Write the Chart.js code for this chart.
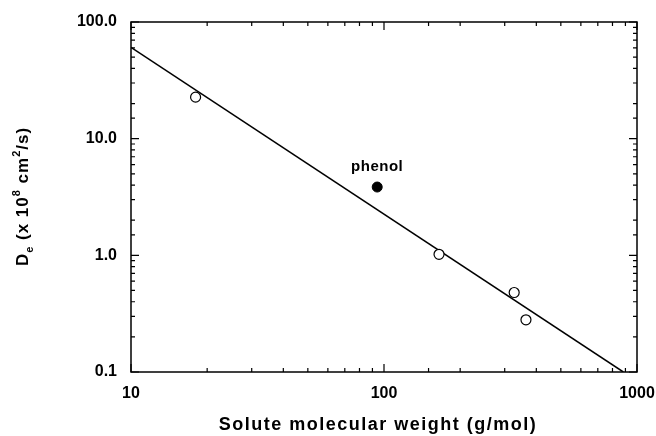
<!DOCTYPE html>
<html>
<head>
<meta charset="utf-8">
<script src="https://cdn.jsdelivr.net/npm/chart.js@4.4.1/dist/chart.umd.min.js"></script>
<style>
  html, body { margin: 0; padding: 0; background: #fff; }
  #wrap { width: 656px; height: 436px; }
</style>
</head>
<body>
<div id="wrap"><canvas id="chart" width="656" height="436"></canvas></div>
<script>
// Effective diffusivity vs solute molecular weight (log-log)
const molWeights = [18, 165, 327, 364];
const diffusivities = [22.7, 1.02, 0.48, 0.28];
const phenolWeight = [94];
const phenolDiff = [3.85];
const fitWeights = [10, 883];
const fitDiff = [60.7, 0.1];
const xTickLabels = ['10', '100', '1000'];
const yTickLabels = ['0.1', '1.0', '10.0', '100.0'];
const xTitle = 'Solute molecular weight (g/mol)';

const FONT = '"Liberation Sans", Arial, Helvetica, sans-serif';

function isDecade(v) {
    const l = Math.log10(v);
    return Math.abs(l - Math.round(l)) < 1e-6;
}

function labelFor(list, v) {
    if (!isDecade(v)) return '';
    const hit = list.find(s => Math.abs(parseFloat(s) - v) < 1e-9);
    return hit || '';
}

// Frame, inward ticks on all four sides, point label and axis titles
const frameTicks = {
    id: 'frameTicks',
    afterDatasetsDraw(chart) {
        const { ctx, chartArea: a, scales: { x, y } } = chart;
        ctx.save();
        ctx.strokeStyle = '#000';
        ctx.lineWidth = 1.5;
        ctx.strokeRect(a.left, a.top, a.right - a.left, a.bottom - a.top);

        ctx.lineWidth = 1.2;
        ctx.beginPath();
        x.ticks.forEach(t => {
            const px = x.getPixelForValue(t.value);
            const len = isDecade(t.value) ? 8 : 4;
            ctx.moveTo(px, a.bottom); ctx.lineTo(px, a.bottom - len);
            ctx.moveTo(px, a.top); ctx.lineTo(px, a.top + len);
        });
        y.ticks.forEach(t => {
            const py = y.getPixelForValue(t.value);
            const len = isDecade(t.value) ? 8 : 4;
            ctx.moveTo(a.left, py); ctx.lineTo(a.left + len, py);
            ctx.moveTo(a.right, py); ctx.lineTo(a.right - len, py);
        });
        ctx.stroke();

        ctx.fillStyle = '#000';
        ctx.textBaseline = 'alphabetic';

        // phenol label above its point
        const pt = chart.getDatasetMeta(1).data[0];
        ctx.font = 'bold 15px ' + FONT;
        ctx.letterSpacing = '0.5px';
        ctx.textAlign = 'center';
        ctx.fillText('phenol', pt.x, pt.y - 16);

        // x axis title
        ctx.font = 'bold 18px ' + FONT;
        ctx.letterSpacing = '1.5px';
        ctx.fillText(xTitle, 378, 430);

        // y axis title with sub/superscripts
        const parts = [
            ['D', 0, 17], ['e', 5, 11], [' (x 10', 0, 17], ['8', -8, 11],
            [' cm', 0, 17], ['2', -8, 11], ['/s)', 0, 17]
        ];
        ctx.letterSpacing = '1px';
        let total = 0;
        parts.forEach(p => { ctx.font = 'bold ' + p[2] + 'px ' + FONT; total += ctx.measureText(p[0]).width; });
        ctx.translate(28, 196.5);
        ctx.rotate(-Math.PI / 2);
        ctx.textAlign = 'left';
        let cx = -total / 2;
        parts.forEach(p => {
            ctx.font = 'bold ' + p[2] + 'px ' + FONT;
            ctx.fillText(p[0], cx, p[1]);
            cx += ctx.measureText(p[0]).width;
        });
        ctx.restore();
    }
};

new Chart(document.getElementById('chart'), {
    type: 'scatter',
    data: {
        datasets: [{
            label: 'solutes',
            data: molWeights.map((w, i) => ({ x: w, y: diffusivities[i] })),
            pointRadius: 5,
            pointBorderWidth: 1.2,
            pointBorderColor: '#000',
            pointBackgroundColor: '#fff'
        }, {
            label: 'phenol',
            data: phenolWeight.map((w, i) => ({ x: w, y: phenolDiff[i] })),
            pointRadius: 5,
            pointBorderWidth: 1,
            pointBorderColor: '#000',
            pointBackgroundColor: '#000'
        }, {
            label: 'fit',
            type: 'line',
            data: fitWeights.map((w, i) => ({ x: w, y: fitDiff[i] })),
            borderColor: '#000',
            borderWidth: 1.5,
            pointRadius: 0,
            fill: false
        }]
    },
    options: {
        responsive: false,
        animation: false,
        devicePixelRatio: 1,
        layout: { padding: { left: 0, right: 19, top: 22, bottom: 0 } },
        plugins: { legend: { display: false }, tooltip: { enabled: false } },
        scales: {
            x: {
                type: 'logarithmic',
                min: 10,
                max: 1000,
                grid: { display: false, drawTicks: false, tickLength: 0 },
                border: { display: false },
                ticks: {
                    autoSkip: false,
                    maxRotation: 0,
                    padding: 12,
                    color: '#000',
                    font: { family: FONT, size: 16, weight: 'bold' },
                    callback: v => labelFor(xTickLabels, v)
                },
                afterFit: s => { s.height = 64; s.paddingLeft = 0; s.paddingRight = 0; }
            },
            y: {
                type: 'logarithmic',
                min: 0.1,
                max: 100,
                grid: { display: false, drawTicks: false, tickLength: 0 },
                border: { display: false },
                ticks: {
                    autoSkip: false,
                    padding: 14,
                    color: '#000',
                    font: { family: FONT, size: 16, weight: 'bold' },
                    callback: v => labelFor(yTickLabels, v)
                },
                afterFit: s => { s.width = 131; s.paddingTop = 0; s.paddingBottom = 0; }
            }
        }
    },
    plugins: [frameTicks]
});
</script>
</body>
</html>
